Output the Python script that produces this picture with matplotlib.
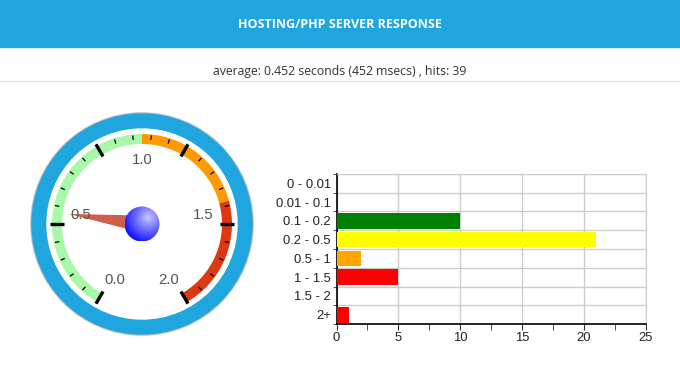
import numpy as np
import matplotlib.pyplot as plt
from matplotlib.patches import Rectangle, Circle, Polygon

# ==================================================
# DATA
# ==================================================

title = "HOSTING/PHP SERVER RESPONSE"
subtitle = "average: 0.452 seconds (452 msecs) , hits: 39"

# gauge
gauge_value = 0.452
gauge_min = 0.0
gauge_max = 2.0
gauge_labels = [0.0, 0.5, 1.0, 1.5, 2.0]
band_ranges = [(0.0, 1.0), (1.0, 1.5), (1.5, 2.0)]
band_colors = ["#a9f7a9", "#ff9900", "#dc3912"]

# histogram of response times
categories = ["0 - 0.01", "0.01 - 0.1", "0.1 - 0.2", "0.2 - 0.5",
              "0.5 - 1", "1 - 1.5", "1.5 - 2", "2+"]
hits = [0, 0, 10, 21, 2, 5, 0, 1]
bar_colors = ["#3366cc", "#3366cc", "#008000", "#ffff00",
              "#ffa500", "#ff0000", "#ff0000", "#ff0000"]

# ==================================================
# FIGURE (pixel coordinates overlay)
# ==================================================

W, H = 680, 371
fig = plt.figure(figsize=(W / 100, H / 100), dpi=100)
fig.patch.set_facecolor("white")

ax = fig.add_axes([0, 0, 1, 1])
ax.set_xlim(0, W)
ax.set_ylim(H, 0)
ax.axis("off")

# header
ax.add_patch(Rectangle((0, 0), W, 47, color="#1fa6df", zorder=1))
ax.text(W / 2, 24, title, color="white", fontsize=9.0, fontweight="bold",
        family="Open Sans", ha="center", va="center")
ax.text(W / 2, 72, subtitle, color="#333333", fontsize=8.8,
        family="Open Sans", ha="center", va="center")
ax.plot([0, W], [80.5, 80.5], color="#e3e3e3", lw=0.9)

# ---------------- gauge ----------------
cx, cy = 142, 224
span = 300.0


def ang(v):
    # degrees clockwise from straight up
    return np.radians(-span / 2 + span * (v - gauge_min) / (gauge_max - gauge_min))


def pt(v, r):
    a = ang(v)
    return cx + r * np.sin(a), cy - r * np.cos(a)


ax.add_patch(Circle((cx, cy), 111.2, color="#9a9a9a", alpha=0.5, zorder=2))
ax.add_patch(Circle((cx, cy), 110, color="#1fa6df", zorder=3))
ax.add_patch(Circle((cx, cy), 95, color="white", zorder=4))

r_in, r_out = 80, 90
for (lo, hi), col in zip(band_ranges, band_colors):
    vs = np.linspace(lo, hi, 60)
    outer = [pt(v, r_out) for v in vs]
    inner = [pt(v, r_in) for v in vs[::-1]]
    ax.add_patch(Polygon(outer + inner, closed=True, color=col, lw=0, zorder=5))

# ticks: 5 major intervals, 5 minor per major
n_major = 5
n_minor = 5
for i in range(n_major * n_minor + 1):
    v = gauge_min + (gauge_max - gauge_min) * i / (n_major * n_minor)
    if i % n_minor == 0:
        p1, p2 = pt(v, 78), pt(v, 92)
        ax.plot([p1[0], p2[0]], [p1[1], p2[1]], color="black", lw=2.4,
                solid_capstyle="butt", zorder=6)
    else:
        p1, p2 = pt(v, 84.5), pt(v, 89)
        ax.plot([p1[0], p2[0]], [p1[1], p2[1]], color="black", lw=0.9,
                solid_capstyle="butt", zorder=6)

for lab in gauge_labels:
    x, y = pt(lab, 63)
    if y > cy:
        # lower labels sit a bit towards the middle
        x = cx + (x - cx) * 0.85
        y += 1
    elif abs(x - cx) > 40:
        y += 7
    else:
        y -= 1
    ax.text(x, y, f"{lab:.1f}", color="#555555", fontsize=10.7,
            family="Liberation Sans", ha="center", va="center", zorder=8.5)

# needle
a = ang(gauge_value)
tip = pt(gauge_value, 74)
px, py = np.cos(a), np.sin(a)
half = 8.5
needle = [tip, (cx + half * px, cy + half * py), (cx - half * px, cy - half * py)]
ax.add_patch(Polygon(needle, closed=True, color="#d05c4a", lw=0, zorder=8))

# ball with radial gradient
rb = 17.5
n = 200
gx, gy = np.meshgrid(np.linspace(-rb, rb, n), np.linspace(-rb, rb, n))
d = np.sqrt((gx - 6) ** 2 + (gy + 6) ** 2) / (2 * rb)
d = np.clip(d, 0, 1)
light = np.array([0.78, 0.78, 1.0])
dark = np.array([0.0, 0.0, 1.0])
t = np.clip(d / 0.8, 0, 1)[..., None]
img = light * (1 - t) + dark * t
im = ax.imshow(img, extent=(cx - rb, cx + rb, cy + rb, cy - rb), zorder=9,
               interpolation="bilinear")
clip = Circle((cx, cy), rb, transform=ax.transData)
im.set_clip_path(clip)
ax.set_xlim(0, W)
ax.set_ylim(H, 0)

# ---------------- bar chart ----------------
left, right, top, bottom = 336.5, 645.5, 174, 324
bax = fig.add_axes([left / W, (H - bottom) / H, (right - left) / W, (bottom - top) / H])
y = np.arange(len(categories))
bax.barh(y, hits, height=0.84, color=bar_colors, zorder=3)
bax.set_xlim(0, 25)
bax.set_ylim(len(categories) - 0.5, -0.5)
bax.set_xticks([0, 5, 10, 15, 20, 25])
bax.set_xticks(np.arange(0, 25.1, 2.5), minor=True)
bax.set_yticks(y)
bax.set_yticklabels(categories)
bax.set_yticks(np.arange(-0.5, len(categories), 1), minor=True)
bax.grid(axis="x", which="major", color="#cccccc", lw=1, zorder=0)
bax.grid(axis="y", which="minor", color="#cccccc", lw=1, zorder=0)
bax.tick_params(axis="y", which="major", length=0, labelsize=9.4,
                labelcolor="#222222", pad=4)
bax.tick_params(axis="y", which="minor", length=3, color="#333333")
bax.tick_params(axis="x", which="both", length=4, color="#333333",
                labelsize=9.4, labelcolor="#222222", pad=2)
for lab in bax.get_xticklabels() + bax.get_yticklabels():
    lab.set_family("Liberation Sans")
for s in ["top", "right"]:
    bax.spines[s].set_color("#cccccc")
for s in ["left", "bottom"]:
    bax.spines[s].set_color("black")
    bax.spines[s].set_linewidth(1.2)

plt.savefig("out.png", dpi=100, facecolor="white")
